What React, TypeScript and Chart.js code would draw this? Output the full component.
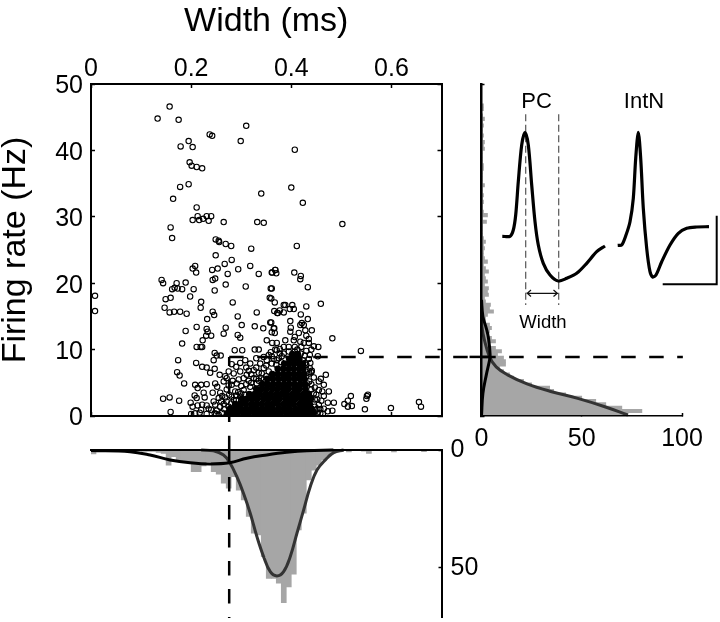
import React, { useEffect, useRef } from "react";
import { Chart, registerables } from "chart.js";

Chart.register(...registerables);

const FONT = "'Liberation Sans', Arial, sans-serif";
const INK = "#000";
const BAR_GREY = "#a6a6a6";
const FIT_GREY = "#333";

// ---- scatter: [width (ms), firing rate (Hz)]
const upperNeurons: number[][] = [
  [.157,46.6],[.133,44.8],[.175,44.6],[.310,43.7],[.237,42.4],[.242,42.2],[.299,41.4],[.195,41.4],[.179,40.6],[.203,40.5],
  [.197,38.2],[.201,37.7],[.211,37.5],[.222,37.3],[.195,34.9],[.178,34.5],[.340,33.5],[.164,32.7],[.211,31.4],[.213,30.1],
  [.231,30.1],[.240,30.1],[.224,29.7],[.203,29.5],[.216,29.5],[.235,29.4],[.265,29.2],[.332,29.2],[.345,29.1],[.159,28.4],
  [.162,26.8],[.249,26.6],[.255,26.4],[.256,26.2],[.269,25.9],[.280,25.6],[.320,25.2],[.407,40.1],[.400,34.4],[.423,32.1],
  [.502,28.9],[.411,25.6],[.249,24.2],[.281,23.5],[.267,22.9],[.208,22.6],[.203,22.2],[.210,21.6],[.242,22.0],[.253,22.2],
  [.294,22.1],[.318,22.6],[.273,21.4],[.335,21.4],[.368,22.0],[.362,21.6],[.370,21.5],[.248,20.7],[.243,20.5],[.141,20.5],
  [.144,20.0],[.171,20.0],[.189,20.1],[.269,19.8],[.309,19.5],[.167,19.3],[.162,19.1],[.173,19.2],[.182,19.1],[.205,19.1],
  [.247,18.9],[.359,19.2],[.198,18.0],[.159,17.8],[.149,17.6],[.357,17.8],[.220,17.2],[.283,17.1],[.367,17.1],[.219,16.3],
  [.147,16.3],[.157,15.6],[.166,15.7],[.178,15.7],[.191,15.4],[.243,15.7],[.246,15.2],[.331,15.6],[.366,15.8],[.372,15.5],
  [.293,15.0],[.232,14.6],[.358,14.1],[.301,13.7],[.211,13.4],[.269,13.3],[.327,13.5],[.344,13.2],[.231,13.1],[.365,13.2],
  [.189,12.8],[.233,12.7],[.265,12.4],[.293,12.2],[.240,12.1],[.230,12.1],[.298,11.8],[.367,12.5],[.223,11.4],[.351,11.4],
  [.362,11.0],[.371,11.0],[.182,10.9],[.211,10.4],[.219,10.4],[.222,10.4],[.327,10.0],[.335,10.0],[.287,9.9],[.302,9.9],
  [.359,9.6],[.247,9.5],[.371,9.9],[.251,9.1],[.259,9.1],[.245,8.4],[.174,8.4],[.210,8.0],[.281,7.8],[.222,7.4],
  [.231,7.3],[.247,7.1],[.238,6.5],[.172,6.6],[.177,6.1],[.257,6.2],[.186,4.9],[.208,4.7],[.231,4.8],[.248,4.9],
  [.220,4.7],[.213,4.2],[.252,4.4],[.225,3.5],[.207,3.1],[.211,2.7],[.227,2.8],[.144,2.6],[.157,2.8],[.176,2.3],
  [.199,2.0],[.203,1.4],[.213,1.6],[.222,1.7],[.159,.6],[.200,.3],[.208,.4],[.217,.5],[.220,.9],[.231,1.6],
  [.243,3.5],[.245,2.2],[.008,18.1],[.008,15.8],
  [.368,22.0],[.361,21.6],[.406,21.6],[.419,21.1],[.418,20.6],[.433,19.4],[.361,19.2],[.360,17.7],[.459,16.9],[.388,16.7],
  [.385,16.7],[.402,16.7],[.430,16.5],[.397,16.1],[.405,16.1],[.373,15.5],[.377,15.9],[.385,15.6],[.419,15.3],[.433,14.6],
  [.398,14.3],[.421,14.0],[.425,13.7],[.418,13.7],[.360,14.1],[.399,13.3],[.366,13.2],[.441,12.9],[.428,12.9],[.398,12.7],
  [.415,12.5],[.361,12.6],[.430,12.1],[.435,11.6],[.407,11.9],[.388,11.4],[.482,11.7],[.405,11.4],[.418,11.2],[.425,11.0],
  [.435,11.0],[.445,10.5],[.454,10.4],[.377,10.1],[.385,10.4],[.395,10.4],[.407,10.4],[.539,9.8],[.437,9.2],[.453,9.0],
  [.438,8.0],[.428,8.0],[.441,6.8],[.440,6.6],[.469,6.2],[.445,5.8],[.459,5.6],[.455,5.2],[.465,4.7],[.462,3.7],
  [.475,3.7],[.465,3.0],[.519,3.0],[.553,3.2],[.551,3.0],[.550,2.6],[.513,2.3],[.506,1.8],[.513,1.4],[.521,1.5],
  [.485,2.0],[.473,2.0],[.455,1.7],[.465,1.1],[.473,.7],[.482,.8],[.547,1.0],[.599,1.2],[.655,2.1],[.659,1.4],
  [.458,.4],[.445,.4],
];

const fringeNeurons: number[][] = [
  [.298,8.0],[.308,8.4],[.318,7.9],[.325,6.9],[.298,6.7],[.311,6.2],[.338,7.9],[.351,8.4],[.361,7.9],[.271,5.7],
  [.265,5.2],[.281,4.7],[.291,4.9],[.305,5.7],[.325,5.7],[.341,6.4],[.355,6.7],[.371,8.4],[.381,9.0],[.258,3.5],
  [.271,4.0],[.288,3.7],[.305,3.9],[.318,4.4],[.331,4.9],[.248,1.7],[.258,1.4],[.271,2.2],[.285,2.4],[.298,2.9],
  [.231,.3],[.247,.4],[.251,.8],[.377,9.4],[.385,9.4],[.395,9.7],[.407,9.7],[.419,9.4],[.423,8.4],[.430,7.7],
  [.437,7.2],[.368,10.0],[.361,9.0],[.262,.5],[.266,1.0],
  [.262,3.0],[.268,2.8],[.276,3.2],[.281,2.9],[.29,3.1],[.294,3.6],[.3,3.4],[.307,3.2],[.275,4.6],[.283,5.3],
  [.295,5.5],[.3,4.5],[.31,4.8],[.315,5.3],[.32,5.0],[.33,5.6],[.335,5.3],[.34,5.7],[.345,5.5],[.35,6.0],
  [.315,6.8],[.32,6.3],[.335,6.5],[.33,7.3],[.345,7.2],[.35,7.6],[.31,7.3],[.29,7.4],[.285,6.4],[.275,6.7],
  [.268,6.0],[.33,8.7],[.345,8.9],[.355,9.2],[.365,8.6],[.37,7.7],[.375,8.7],[.38,8.1],[.26,2.2],[.265,1.8],
  [.275,1.4],[.28,1.9],[.29,2.4],[.3,2.2],[.255,2.7],[.25,.3],[.235,1.1],[.24,.9],[.255,.2],
  [.43,7.0],[.436,6.4],[.43,6.0],[.436,5.2],[.44,4.8],[.432,4.9],[.44,4.0],[.447,4.3],[.445,3.4],[.45,3.2],
  [.447,2.5],[.452,2.5],[.455,3.9],[.447,1.4],[.452,1.1],[.458,1.0],[.448,.9],[.46,2.3],[.452,.5],[.463,.3],
  [.435,8.6],[.427,9.1],[.43,9.8],[.44,10.0],[.42,10.4],[.412,10.0],
];

// the solid core of the cloud: [firing rate, widths at that rate]
const coreRows: [number, number[]][] = [
  [.4,[.272,.283,.292,.304,.314,.326,.336,.347,.358,.369,.379,.391,.402,.413,.424,.434,.443]],
  [1.1,[.278,.289,.299,.31,.321,.331,.342,.353,.363,.375,.386,.396,.408,.419,.43,.44]],
  [1.8,[.288,.298,.309,.32,.33,.341,.352,.362,.373,.384,.395,.405,.417,.427,.437]],
  [2.6,[.302,.312,.323,.333,.345,.355,.366,.376,.388,.398,.409,.42,.431,.439]],
  [3.3,[.316,.327,.337,.348,.359,.37,.38,.391,.402,.413,.424,.435]],
  [4.1,[.33,.341,.351,.362,.373,.384,.394,.406,.416,.428]],
  [4.8,[.342,.353,.364,.375,.386,.396,.407,.418,.427]],
  [5.6,[.352,.363,.374,.385,.395,.406,.417,.426]],
  [6.3,[.362,.373,.384,.394,.405,.415,.425]],
  [7.1,[.373,.384,.395,.405,.416,.424]],
  [7.9,[.386,.396,.406,.416,.423]],
  [8.6,[.396,.406,.416]],
  [9.3,[.402,.413]],
];

// ---- width histogram (bins 0.01 ms wide)
const widthCounts = [
  1.7,.5,.3,.3,.3,.3,.3,.3,.3,.4,
  .6,.6,.6,1,1.5,6.4,2.8,4.2,5,5,
  9.2,9.2,6.8,5,9.2,10.2,14.1,16.2,11.3,17,
  21.2,28.2,35.3,36,45.2,54.4,54.4,56.5,64.7,58,
  52.6,33.9,26.8,12.7,8.5,6.4,4.2,2.5,.9,.5,
  .3,.8,.3,.3,.5,1.5,.2,.1,.1,.1,
  .8,.1,.1,.1,.1,.1,.7,.1,0,0,
];
const widthFitPC: number[][] = [
  [.22,0],[.2447,.28],[.2647,2.1],[.2767,5.2],[.2913,11.3],[.3047,18.4],[.318,26.8],[.3313,36.7],[.3447,45.2],[.358,51.6],
  [.3713,53.4],[.3847,51.6],[.398,45.2],[.4113,35.3],[.4247,25.4],[.438,15.5],[.4513,8.5],[.468,4.2],[.4847,1.1],[.5047,0],
];
const widthFitInt: number[][] = [
  [0,.2],[.078,.7],[.118,2.1],[.158,4.2],[.198,5.4],[.238,5.9],[.2767,5.4],[.3113,3.5],[.351,2.1],[.391,.98],[.431,.28],[.484,0],
];

// ---- firing rate histogram (bins 0.5 Hz wide, from 0 Hz upward)
const rateCounts = [
  73,80,70,62,57,50,42,36,34,25,21,16,14,11,9,12,12,11,8,10,
  7,4,7,5,3,4,5,4,2,2,3,6,4,4.5,2,1.5,3.5,3,3.5,1.5,
  3,2,1.5,3.5,2,1,3,1.5,1,1,1.5,1,2,1,.5,.5,.5,.5,2.5,.5,
  3,1,.5,.5,1,.5,1,.5,.5,1.5,.5,.5,.5,.5,1,1,.5,.5,.5,.5,
  1.5,1,1.5,.5,1,.5,.5,1,.5,1.5,.5,0,1,1,0,0,0,0,0,0,
];
const rateFitPC: number[][] = [
  [73,.15],[61.5,1.4],[48,2.66],[35,3.66],[23,4.8],[13,6.2],[7.3,7.4],[4,8.9],[1.5,11.4],[.2,13.5],[0,16],
];
const rateFitInt: number[][] = [
  [0,0],[.7,3.4],[2.4,6.2],[4,8.4],[4.3,9.2],[3.5,11.7],[2.4,13.2],[.7,15],[0,17.5],
];

const cutRate = 8.9;
const cutWidth = 0.276;

// ---- inset (arbitrary units)
const spikePC: number[][] = [
  [32.3,98.7],[40,98.7],[43.3,105],[45.7,120],[48.3,153.3],[51.7,190],[55,202.7],[58.3,190],[61.7,150],[65,113.3],
  [68.3,90],[73.3,71.7],[80,60],[88.3,54],[96.7,56.7],[106.7,61.7],[116.7,71.7],[126.7,83.3],[135,89],
];
const spikeInt: number[][] = [
  [147.7,89.7],[151.7,90],[156,100],[160,113.3],[163.3,136.7],[165.7,176.7],[168.3,202.7],[170.7,176.7],[173.3,126.7],[176.7,86.7],
  [180,63.3],[182.7,58],[186,60],[191.7,73.3],[200,90],[208.3,101.7],[216.7,106.7],[226.7,108],[239,108.3],
];
const scaleBar: number[][] = [[192.7,50.7],[246.7,50.7],[246.7,119.3]];
const guideLeft: number[][] = [[55.7,220.7],[55.7,30]];
const guideRight: number[][] = [[88.7,220.7],[88.7,30]];
const widthArrow: number[][] = [
  [61,45],[57.3,41.7],[61,38.5],[57.3,41.7],[87.3,41.7],[83.5,45],[87.3,41.7],[83.5,38.5],
];
const insetLabels: { text: string; x: number; y: number; size: number }[] = [
  { text: "PC", x: 66.5, y: 233, size: 22 },
  { text: "IntN", x: 174, y: 233, size: 22 },
  { text: "Width", x: 73, y: 12, size: 18.5 },
];

const pts = (a: number[][]) => a.map(([x, y]) => ({ x, y }));
const hide = { legend: { display: false }, tooltip: { enabled: false } };

const fixW = (w: number) => (s: any) => { s.width = w; s.paddingTop = 0; s.paddingBottom = 0; };
const fixH = (h: number) => (s: any) => { s.height = h; s.paddingLeft = 0; s.paddingRight = 0; };

function axis(extra: any, tick: number, width = 2) {
  return {
    offset: false,
    grid: { offset: false, drawOnChartArea: false, drawTicks: true, tickLength: tick, tickColor: INK, tickWidth: 1.5 },
    border: { display: true, color: INK, width, z: 1 },
    ...extra,
  };
}
const labels = (extra: any = {}) => ({
  autoSkip: false, maxRotation: 0, minRotation: 0, includeBounds: false,
  color: INK, font: { family: FONT, size: 25 }, ...extra,
});
const noLabels = (extra: any = {}) => ({ display: false, includeBounds: false, autoSkip: false, ...extra });
const fitLine = (data: number[][], color: string, width = 3) => ({
  type: "line", data: pts(data), borderColor: color, borderWidth: width, pointRadius: 0, tension: 0.4, fill: false, clip: false,
});
const rule = (data: number[][], dash?: number[], color = INK, width = 2.5, tension = 0) => ({
  type: "line", data: pts(data), borderColor: color, borderWidth: width, pointRadius: 0, tension, fill: false, clip: false,
  borderDash: dash ?? [], borderCapStyle: "butt",
});

const common = { responsive: false, maintainAspectRatio: false, animation: false as const, plugins: hide, events: [] as string[] };

const insetText = {
  id: "insetText",
  afterDatasetsDraw(chart: any) {
    const { ctx, scales } = chart;
    ctx.save();
    ctx.fillStyle = INK;
    ctx.textAlign = "center";
    ctx.textBaseline = "middle";
    for (const l of insetLabels) {
      ctx.font = `${l.size}px ${FONT}`;
      ctx.fillText(l.text, scales.x.getPixelForValue(l.x), scales.y.getPixelForValue(l.y));
    }
    ctx.restore();
  },
};

export default function App() {
  const mainRef = useRef<HTMLCanvasElement>(null);
  const widthRef = useRef<HTMLCanvasElement>(null);
  const rateRef = useRef<HTMLCanvasElement>(null);
  const insetRef = useRef<HTMLCanvasElement>(null);

  useEffect(() => {
    const core = coreRows.flatMap(([y, xs]) => xs.map((x) => ({ x, y })));
    const main = new Chart(mainRef.current!, {
      type: "scatter",
      data: {
        datasets: [
          rule([[cutWidth, cutRate], [1.182, cutRate]], [14.5, 13.5]),
          rule([[.756, cutRate], [.798, cutRate]]),
          rule([[cutWidth, -0.9], [cutWidth, cutRate]], [14.5, 13.5]),
          { data: core, pointRadius: 3.4, pointBackgroundColor: INK, pointBorderColor: INK, pointBorderWidth: 0 },
          { data: pts(fringeNeurons), pointRadius: 2.7, pointBackgroundColor: "transparent", pointBorderColor: INK, pointBorderWidth: 1.1 },
          { data: pts(upperNeurons), pointRadius: 2.7, pointBackgroundColor: "transparent", pointBorderColor: INK, pointBorderWidth: 1.1 },
        ] as any,
      },
      options: {
        ...common,
        layout: { padding: { left: 0, top: 0, right: 278.5, bottom: 206 } },
        scales: {
          x: axis({
            type: "linear", position: "top", min: 0, max: .7, afterFit: fixH(84),
            title: { display: true, text: "Width (ms)", color: INK, font: { family: FONT, size: 34 }, padding: { top: 1, bottom: 0 } },
            ticks: labels({ stepSize: .2, padding: 4, callback: (v: number) => (v === 0 ? "0" : v.toFixed(1)) }),
          }, -4),
          x2: axis({
            type: "linear", axis: "x", position: "bottom", min: 0, max: .7, afterFit: fixH(0),
            ticks: noLabels({ stepSize: .2 }),
          }, -4),
          y: axis({
            type: "linear", position: "left", min: 0, max: 50, afterFit: fixW(91),
            title: { display: true, text: "Firing rate (Hz)", color: INK, font: { family: FONT, size: 34, lineHeight: .9 }, padding: { top: 0, bottom: 0 } },
            ticks: labels({ stepSize: 10, padding: 12, labelOffset: 2.5 }),
          }, -4),
          y2: axis({
            type: "linear", axis: "y", position: "right", min: 0, max: 50, afterFit: fixW(0),
            ticks: noLabels({ stepSize: 10 }),
          }, -4),
        },
      } as any,
    });

    const widthHist = new Chart(widthRef.current!, {
      type: "bar",
      data: {
        datasets: [
          rule([[cutWidth, -6], [cutWidth, 5.5]]),
          rule([[cutWidth, 11.4], [cutWidth, 71.2]], [14.5, 13.5]),
          fitLine(widthFitInt, INK),
          fitLine(widthFitPC, FIT_GREY),
          {
            type: "bar",
            data: widthCounts.map((y, i) => ({ x: (i + .5) / 100, y })),
            backgroundColor: BAR_GREY, borderWidth: 0, barThickness: 5,
          },
        ] as any,
      },
      options: {
        ...common,
        layout: { padding: { left: 91, top: 450, right: 178.5, bottom: 5 } },
        scales: {
          x: axis({
            type: "linear", position: "top", min: 0, max: .7, afterFit: fixH(0),
            grid: { display: true, offset: false, drawOnChartArea: false, drawTicks: false },
            ticks: noLabels({ stepSize: .2 }),
          }, 0),
          y: axis({
            type: "linear", position: "right", reverse: true, min: 0, max: 70.8, afterFit: fixW(100),
            ticks: labels({ stepSize: 50, padding: 12 }),
          }, -3),
        },
      } as any,
    });

    const rateHist = new Chart(rateRef.current!, {
      type: "bar",
      data: {
        datasets: [
          fitLine(rateFitInt, INK),
          fitLine(rateFitPC, FIT_GREY),
          {
            type: "bar", indexAxis: "y",
            data: rateCounts.map((x, i) => ({ x, y: (i + .5) / 2 })),
            backgroundColor: BAR_GREY, borderWidth: 0, barThickness: 3.4,
          },
        ] as any,
      },
      options: {
        ...common,
        layout: { padding: { left: 0, top: 84, right: 38, bottom: 166 } },
        scales: {
          x: axis({
            type: "linear", position: "bottom", min: 0, max: 100, afterFit: fixH(40),
            ticks: labels({ stepSize: 50, padding: 11 }),
          }, -3, 1.5),
          y: axis({
            type: "linear", position: "left", min: 0, max: 50, afterFit: fixW(481.5),
            ticks: noLabels({ stepSize: 50 }),
          }, -3, 2.5),
        },
      } as any,
    });

    const inset = new Chart(insetRef.current!, {
      type: "line",
      data: {
        datasets: [
          rule(spikePC, undefined, INK, 3.2, 0.3),
          rule(spikeInt, undefined, INK, 3.2, 0.3),
          rule(scaleBar, undefined, INK, 2),
          rule(guideLeft, [7, 3.5], "#555", 1.2),
          rule(guideRight, [7, 3.5], "#555", 1.2),
          rule(widthArrow, undefined, "#111", 1.2),
        ] as any,
      },
      options: {
        ...common,
        layout: { padding: { left: 470, top: 75, right: 0, bottom: 287 } },
        scales: {
          x: { type: "linear", display: false, min: 0, max: 250 },
          y: { type: "linear", display: false, min: 0, max: 260 },
        },
      } as any,
      plugins: [insetText],
    });

    return () => {
      main.destroy();
      widthHist.destroy();
      rateHist.destroy();
      inset.destroy();
    };
  }, []);

  const style: React.CSSProperties = { position: "absolute", left: 0, top: 0, display: "block" };
  return (
    <div style={{ position: "absolute", left: 0, top: 0, width: 720, height: 622, overflow: "hidden", background: "#fff" }}>
      <canvas ref={widthRef} width={720} height={622} style={style} />
      <canvas ref={rateRef} width={720} height={622} style={style} />
      <canvas ref={mainRef} width={720} height={622} style={style} />
      <canvas ref={insetRef} width={720} height={622} style={style} />
    </div>
  );
}
